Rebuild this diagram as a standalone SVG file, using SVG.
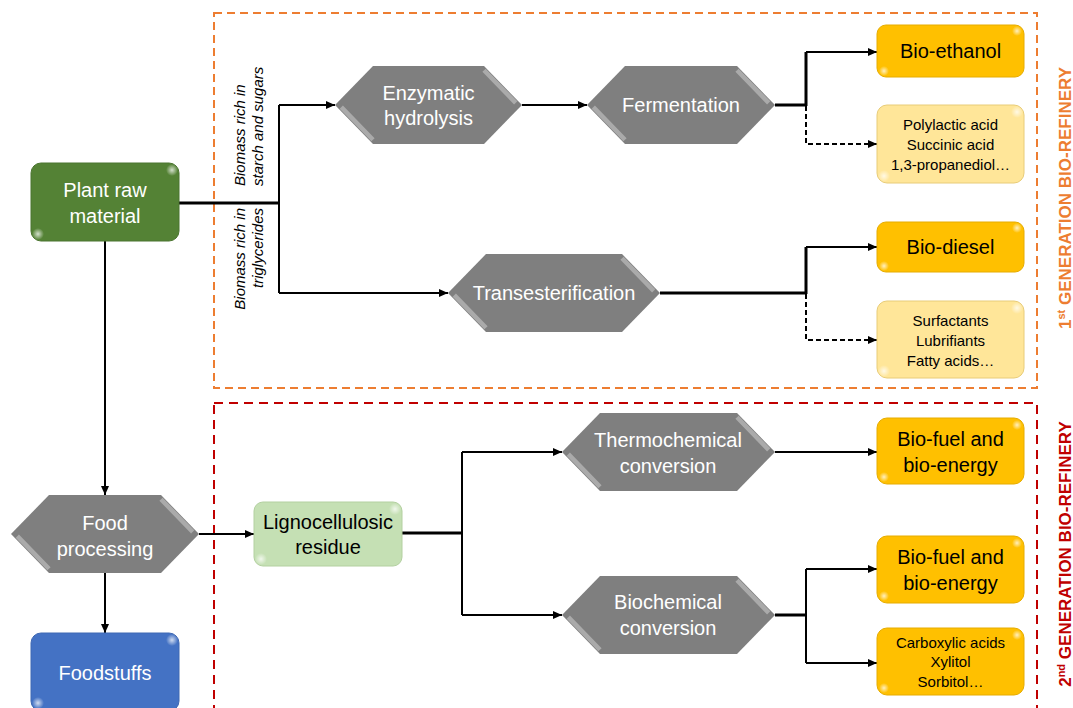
<svg xmlns="http://www.w3.org/2000/svg" width="1073" height="708" viewBox="0 0 1073 708">
<style>
text{font-family:"Liberation Sans",Arial,sans-serif;}
.hex{fill:#7F7F7F;}
.bev{stroke:#AAAAAA;stroke-width:4.5;fill:none;}
.wt{fill:#FFFFFF;font-size:20px;text-anchor:middle;}
.bt{fill:#000000;font-size:20px;text-anchor:middle;}
.st{fill:#000000;font-size:15px;text-anchor:middle;}
.it{fill:#000000;font-size:15px;font-style:italic;}
.ln{stroke:#000;stroke-width:2;fill:none;}
.tk{stroke:#000;stroke-width:3;fill:none;}
.ds{stroke:#000;stroke-width:2;fill:none;stroke-dasharray:5 3;}
.yel{fill:#FFC000;stroke:#E6AC00;stroke-width:1;}
.lyel{fill:#FFE699;stroke:#E8CC78;stroke-width:1;}
.hl{fill:url(#hlg);}
</style>
<defs>
<marker id="ar" markerUnits="userSpaceOnUse" markerWidth="10" markerHeight="8" refX="9" refY="4" orient="auto">
<path d="M0,0 L9,4 L0,8 z" fill="#000"/>
</marker>
<radialGradient id="hlg">
<stop offset="0" stop-color="#FFFFFF" stop-opacity="0.75"/>
<stop offset="1" stop-color="#FFFFFF" stop-opacity="0"/>
</radialGradient>
</defs>

<g id="frames">
<rect x="214" y="13" width="823" height="375" fill="none" stroke="#ED7D31" stroke-width="2" stroke-dasharray="8 5"/>
<rect x="214" y="403" width="823" height="330" fill="none" stroke="#C00000" stroke-width="2" stroke-dasharray="9 6"/>
<text transform="translate(1071,198) rotate(-90)" text-anchor="middle" font-weight="bold" font-size="17" fill="#ED7D31">1<tspan dy="-6" font-size="11">st</tspan><tspan dy="6"> GENERATION BIO-REFINERY</tspan></text>
<text transform="translate(1071,554) rotate(-90)" text-anchor="middle" font-weight="bold" font-size="17" fill="#C00000">2<tspan dy="-6" font-size="11">nd</tspan><tspan dy="6"> GENERATION BIO-REFINERY</tspan></text>
</g>

<g id="connectors">
<path class="tk" d="M179,203 H279"/>
<path class="ln" d="M279,105 V293"/>
<path class="ln" d="M279,105 H335" marker-end="url(#ar)"/>
<path class="ln" d="M279,293 H448" marker-end="url(#ar)"/>
<path class="ln" d="M522,105 H587" marker-end="url(#ar)"/>
<path class="tk" d="M775,105 H806 M806,106 V52"/>
<path class="ln" d="M806,52 H877" marker-end="url(#ar)"/>
<path class="ds" d="M806,106 V144 H877" marker-end="url(#ar)"/>
<path class="tk" d="M660,293 H806 M806,294 V247"/>
<path class="ln" d="M806,247 H877" marker-end="url(#ar)"/>
<path class="ds" d="M806,294 V340 H877" marker-end="url(#ar)"/>
<path class="ln" d="M105,241 V495" marker-end="url(#ar)"/>
<path class="ln" d="M105,573 V633" marker-end="url(#ar)"/>
<path class="ln" d="M199,534 H254" marker-end="url(#ar)"/>
<path class="tk" d="M402,533 H462"/>
<path class="ln" d="M462,452 V615"/>
<path class="ln" d="M462,452 H562" marker-end="url(#ar)"/>
<path class="ln" d="M462,615 H562" marker-end="url(#ar)"/>
<path class="ln" d="M775,452 H877" marker-end="url(#ar)"/>
<path class="tk" d="M775,615 H806"/>
<path class="ln" d="M806,569 V663"/>
<path class="ln" d="M806,569 H877" marker-end="url(#ar)"/>
<path class="ln" d="M806,663 H877" marker-end="url(#ar)"/>
</g>

<g id="labels">
<text class="it" transform="translate(245,186) rotate(-90)">Biomass rich in</text>
<text class="it" transform="translate(263,186) rotate(-90)">starch and sugars</text>
<text class="it" transform="translate(245,208) rotate(-90)" text-anchor="end">Biomass rich in</text>
<text class="it" transform="translate(263,208) rotate(-90)" text-anchor="end">triglycerides</text>
</g>

<g id="plant">
<rect x="31" y="163" width="148" height="78" rx="10" fill="#548235" stroke="#4B7530" stroke-width="1"/>
<circle class="hl" cx="172" cy="170" r="6"/><circle class="hl" cx="38" cy="234" r="6"/>
<text class="wt" x="105" y="197">Plant raw</text>
<text class="wt" x="105" y="223">material</text>
</g>

<g id="enzymatic">
<polygon class="hex" points="335,105 373,66 484,66 522,105 484,144 373,144"/>
<path class="bev" d="M484,70.2 L515.7,102.9 M341.3,107.1 L373,139.8"/>
<text class="wt" x="428.5" y="100">Enzymatic</text>
<text class="wt" x="428.5" y="125">hydrolysis</text>
</g>

<g id="fermentation">
<polygon class="hex" points="587,105 625,66 737,66 775,105 737,144 625,144"/>
<path class="bev" d="M737,70.2 L768.7,102.9 M593.3,107.1 L625,139.8"/>
<text class="wt" x="681" y="112">Fermentation</text>
</g>

<g id="transesterification">
<polygon class="hex" points="448,293 486,254 622,254 660,293 622,332 486,332"/>
<path class="bev" d="M622,258.2 L653.7,290.9 M454.3,295.1 L486,327.8"/>
<text class="wt" x="554" y="300">Transesterification</text>
</g>

<g id="bioethanol">
<rect class="yel" x="877" y="25" width="147" height="52" rx="9"/>
<circle class="hl" cx="1017" cy="31" r="5"/><circle class="hl" cx="884" cy="71" r="5"/>
<text class="bt" x="950.5" y="58">Bio-ethanol</text>
</g>

<g id="chemicals1">
<rect class="lyel" x="877" y="105" width="147" height="78" rx="10"/>
<circle class="hl" cx="1017" cy="112" r="6"/><circle class="hl" cx="884" cy="176" r="6"/>
<text class="st" x="950.5" y="130">Polylactic acid</text>
<text class="st" x="950.5" y="150">Succinic acid</text>
<text class="st" x="950.5" y="170">1,3-propanediol…</text>
</g>

<g id="biodiesel">
<rect class="yel" x="877" y="222" width="147" height="50" rx="9"/>
<circle class="hl" cx="1017" cy="228" r="5"/><circle class="hl" cx="884" cy="266" r="5"/>
<text class="bt" x="950.5" y="254">Bio-diesel</text>
</g>

<g id="chemicals2">
<rect class="lyel" x="877" y="301" width="147" height="77" rx="10"/>
<circle class="hl" cx="1017" cy="308" r="6"/><circle class="hl" cx="884" cy="371" r="6"/>
<text class="st" x="950.5" y="326">Surfactants</text>
<text class="st" x="950.5" y="346">Lubrifiants</text>
<text class="st" x="950.5" y="366">Fatty acids…</text>
</g>

<g id="foodprocessing">
<polygon class="hex" points="11,534 49,495 161,495 199,534 161,573 49,573"/>
<path class="bev" d="M161,499.2 L192.7,531.9 M17.3,536.1 L49,568.8"/>
<text class="wt" x="105" y="530">Food</text>
<text class="wt" x="105" y="556">processing</text>
</g>

<g id="foodstuffs">
<rect x="31" y="633" width="148" height="78" rx="10" fill="#4472C4" stroke="#3F68B3" stroke-width="1"/>
<circle class="hl" cx="172" cy="640" r="6"/><circle class="hl" cx="38" cy="703" r="6"/>
<text class="wt" x="105" y="680">Foodstuffs</text>
</g>

<g id="lignocellulosic">
<rect x="254" y="502" width="148" height="64" rx="9" fill="#C5E0B4" stroke="#B3D0A0" stroke-width="1"/>
<circle class="hl" cx="395" cy="509" r="6"/><circle class="hl" cx="261" cy="559" r="6"/>
<text class="bt" x="328" y="529">Lignocellulosic</text>
<text class="bt" x="328" y="554">residue</text>
</g>

<g id="thermochemical">
<polygon class="hex" points="562,452 600,413 737,413 775,452 737,491 600,491"/>
<path class="bev" d="M737,417.2 L768.7,449.9 M568.3,454.1 L600,486.8"/>
<text class="wt" x="668" y="447">Thermochemical</text>
<text class="wt" x="668" y="473">conversion</text>
</g>

<g id="biochemical">
<polygon class="hex" points="562,615 600,576 737,576 775,615 737,654 600,654"/>
<path class="bev" d="M737,580.2 L768.7,612.9 M568.3,617.1 L600,649.8"/>
<text class="wt" x="668" y="609">Biochemical</text>
<text class="wt" x="668" y="635">conversion</text>
</g>

<g id="biofuel1">
<rect class="yel" x="877" y="418" width="147" height="66" rx="10"/>
<circle class="hl" cx="1017" cy="425" r="5"/><circle class="hl" cx="884" cy="477" r="5"/>
<text class="bt" x="950.5" y="446">Bio-fuel and</text>
<text class="bt" x="950.5" y="472">bio-energy</text>
</g>

<g id="biofuel2">
<rect class="yel" x="877" y="536" width="147" height="67" rx="10"/>
<circle class="hl" cx="1017" cy="543" r="5"/><circle class="hl" cx="884" cy="596" r="5"/>
<text class="bt" x="950.5" y="564">Bio-fuel and</text>
<text class="bt" x="950.5" y="590">bio-energy</text>
</g>

<g id="chemicals3">
<rect class="yel" x="877" y="628" width="147" height="67" rx="10"/>
<circle class="hl" cx="1017" cy="635" r="5"/><circle class="hl" cx="884" cy="688" r="5"/>
<text class="st" x="950.5" y="648">Carboxylic acids</text>
<text class="st" x="950.5" y="667">Xylitol</text>
<text class="st" x="950.5" y="687">Sorbitol…</text>
</g>
</svg>
